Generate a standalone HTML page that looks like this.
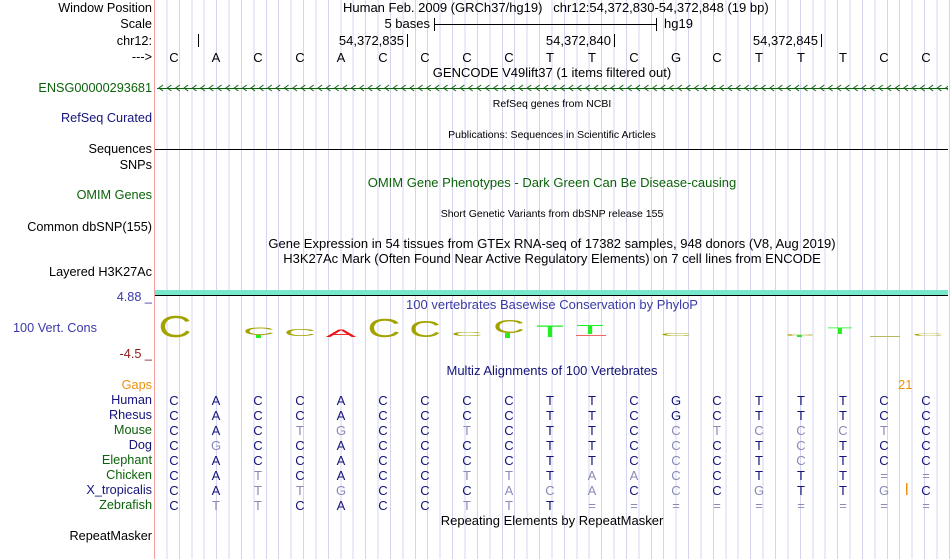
<!DOCTYPE html>
<html><head><meta charset="utf-8"><style>
body{margin:0;width:950px;height:559px;background:#fff;position:relative;overflow:hidden;font-family:"Liberation Sans",Arial,sans-serif;font-size:13px;color:#000}
#grid{position:absolute;left:155px;top:0;width:795px;height:559px;background-image:repeating-linear-gradient(to right,transparent 0 11.42px,#d4d4f0 11.42px 12.42px)}
#pink{position:absolute;left:154px;top:0;width:1px;height:559px;background:#f2a0a0}
.l{position:absolute;right:798px;white-space:nowrap;line-height:14px;font-size:12.7px}
.t{position:absolute;white-space:nowrap;line-height:14px}
.c{position:absolute;white-space:nowrap;line-height:14px;transform:translateX(-50%)}
.s{font-size:10.5px}
.nv{color:#14147a}.gr{color:#0b620b}
svg{position:absolute;left:0;top:0}
.a text{fill:#14147a}
.a text.x{fill:#8a8ab8}
</style></head><body>
<div id="grid"></div><div id="pink"></div>
<div class="l" style="top:1px">Window Position</div>
<div class="l" style="top:17px">Scale</div>
<div class="l" style="top:34px">chr12:</div>
<div class="l" style="top:50px">---&gt;</div>
<div class="l gr" style="top:81px">ENSG00000293681</div>
<div class="l nv" style="top:111px">RefSeq Curated</div>
<div class="l" style="top:142px">Sequences</div>
<div class="l" style="top:158px">SNPs</div>
<div class="l gr" style="top:188px">OMIM Genes</div>
<div class="l" style="top:220px">Common dbSNP(155)</div>
<div class="l" style="top:265px">Layered H3K27Ac</div>
<div class="l" style="top:290px;color:#3a3aa8">4.88 _</div>
<div class="t" style="top:321px;left:13px;color:#3a3aa8;font-size:12.7px">100 Vert. Cons</div>
<div class="l" style="top:347px;color:#8b1a1a">-4.5 _</div>
<div class="l" style="top:378px;color:#f0900a">Gaps</div>
<div class="l nv" style="top:393px">Human</div>
<div class="l nv" style="top:408px">Rhesus</div>
<div class="l gr" style="top:423px">Mouse</div>
<div class="l nv" style="top:438px">Dog</div>
<div class="l gr" style="top:453px">Elephant</div>
<div class="l gr" style="top:468px">Chicken</div>
<div class="l nv" style="top:483px">X_tropicalis</div>
<div class="l gr" style="top:498px">Zebrafish</div>
<div class="l" style="top:529px">RepeatMasker</div>

<div class="t" style="top:1px;left:343px">Human Feb. 2009 (GRCh37/hg19)&nbsp;&nbsp;&nbsp;chr12:54,372,830-54,372,848 (19 bp)</div>
<div class="t" style="top:17px;right:520px">5 bases</div>
<div class="t" style="top:17px;left:664px">hg19</div>
<div class="t" style="top:34px;right:546px">54,372,835</div>
<div class="t" style="top:34px;right:339px">54,372,840</div>
<div class="t" style="top:34px;right:132px">54,372,845</div>
<div class="c" style="top:66px;left:552px">GENCODE V49lift37 (1 items filtered out)</div>
<div class="c s" style="top:97px;left:552px">RefSeq genes from NCBI</div>
<div class="c s" style="top:128px;left:552px">Publications: Sequences in Scientific Articles</div>
<div class="c gr" style="top:176px;left:552px">OMIM Gene Phenotypes - Dark Green Can Be Disease-causing</div>
<div class="c s" style="top:207px;left:552px">Short Genetic Variants from dbSNP release 155</div>
<div class="c" style="top:237px;left:552px">Gene Expression in 54 tissues from GTEx RNA-seq of 17382 samples, 948 donors (V8, Aug 2019)</div>
<div class="c" style="top:252px;left:552px">H3K27Ac Mark (Often Found Near Active Regulatory Elements) on 7 cell lines from ENCODE</div>
<div class="c" style="top:298px;left:552px;color:#3a3aa8">100 vertebrates Basewise Conservation by PhyloP</div>
<div class="c nv" style="top:364px;left:552px">Multiz Alignments of 100 Vertebrates</div>
<div class="t" style="top:378px;left:898px;color:#f0900a">21</div>
<div class="c" style="top:514px;left:552px">Repeating Elements by RepeatMasker</div>

<svg width="950" height="559" xmlns="http://www.w3.org/2000/svg" font-family="Liberation Sans, Arial, sans-serif">
<defs><pattern id="chev" x="157" y="82" width="8.37" height="12" patternUnits="userSpaceOnUse"><path d="M6,3 L2,6 L6,9" fill="none" stroke="#0b620b" stroke-width="1"/></pattern></defs>
<g stroke="#000" stroke-width="1">
<line x1="198.5" y1="34" x2="198.5" y2="47"/><line x1="407.5" y1="34" x2="407.5" y2="47"/><line x1="614.5" y1="34" x2="614.5" y2="47"/><line x1="821.5" y1="34" x2="821.5" y2="47"/>
<line x1="434" y1="24.5" x2="656" y2="24.5"/><line x1="434.5" y1="18" x2="434.5" y2="31"/><line x1="656.5" y1="18" x2="656.5" y2="31"/>
<line x1="155" y1="149.5" x2="948" y2="149.5"/>
<line x1="155" y1="295.5" x2="948" y2="295.5"/>
</g>
<line x1="157" y1="88.5" x2="948" y2="88.5" stroke="#0b620b"/>
<rect x="157" y="82" width="791" height="12" fill="url(#chev)"/>
<rect x="155" y="290" width="793" height="5" fill="#78e8cc"/>
<g font-size="13" text-anchor="middle">
<text y="62" x="174">C</text><text y="62" x="216">A</text><text y="62" x="258">C</text><text y="62" x="300">C</text><text y="62" x="341">A</text><text y="62" x="383">C</text><text y="62" x="425">C</text><text y="62" x="467">C</text><text y="62" x="509">C</text><text y="62" x="550">T</text><text y="62" x="592">T</text><text y="62" x="634">C</text><text y="62" x="676">G</text><text y="62" x="717">C</text><text y="62" x="759">T</text><text y="62" x="801">T</text><text y="62" x="843">T</text><text y="62" x="884">C</text><text y="62" x="926">C</text>
</g>
<g font-size="20" text-anchor="middle">
<text transform="translate(175,337) scale(2.3,1.55)" fill="#a3a300">C</text>
<text transform="translate(259,335) scale(2.2,0.55)" fill="#a3a300">C</text>
<rect x="256" y="335" width="5" height="3" fill="#22ee22"/>
<text transform="translate(300,336) scale(2.2,0.5)" fill="#a3a300">C</text>
<text transform="translate(341,337) scale(2.3,0.55)" fill="#ee1111">A</text>
<text transform="translate(384,337) scale(2.3,1.3)" fill="#a3a300">C</text>
<text transform="translate(425,337) scale(2.2,1.15)" fill="#a3a300">C</text>
<text transform="translate(467,336) scale(2.2,0.28)" fill="#a3a300">C</text>
<text transform="translate(509,333) scale(2.2,0.9)" fill="#a3a300">C</text>
<rect x="505" y="333" width="5" height="5" fill="#22ee22"/>
<text transform="translate(550,337) scale(2.3,0.85)" fill="#22ee22">T</text>
<text transform="translate(590,334) scale(2.3,0.65)" fill="#22ee22">T</text>
<rect x="576" y="335" width="30" height="1" fill="#ee6666"/>
<text transform="translate(676,336) scale(2.2,0.22)" fill="#a3a300">C</text>
<text transform="translate(800,336) scale(2.1,0.15)" fill="#a3a300">C</text>
<rect x="797" y="335" width="5" height="2" fill="#22ee22"/>
<text transform="translate(840,334) scale(2.1,0.45)" fill="#22ee22">T</text>
<rect x="870" y="336" width="30" height="1" fill="#b8b860"/>
<text transform="translate(928,336) scale(2.2,0.2)" fill="#a3a300">C</text>
</g>
<rect x="906" y="483" width="1.5" height="12" fill="#f0900a"/>
<g class="a" font-size="13" text-anchor="middle">
<g transform="translate(0,405)"><text x="174">C</text><text x="216">A</text><text x="258">C</text><text x="300">C</text><text x="341">A</text><text x="383">C</text><text x="425">C</text><text x="467">C</text><text x="509">C</text><text x="550">T</text><text x="592">T</text><text x="634">C</text><text x="676">G</text><text x="717">C</text><text x="759">T</text><text x="801">T</text><text x="843">T</text><text x="884">C</text><text x="926">C</text></g>
<g transform="translate(0,420)"><text x="174">C</text><text x="216">A</text><text x="258">C</text><text x="300">C</text><text x="341">A</text><text x="383">C</text><text x="425">C</text><text x="467">C</text><text x="509">C</text><text x="550">T</text><text x="592">T</text><text x="634">C</text><text x="676">G</text><text x="717">C</text><text x="759">T</text><text x="801">T</text><text x="843">T</text><text x="884">C</text><text x="926">C</text></g>
<g transform="translate(0,435)"><text x="174">C</text><text x="216">A</text><text x="258">C</text><text class="x" x="300">T</text><text class="x" x="341">G</text><text x="383">C</text><text x="425">C</text><text class="x" x="467">T</text><text x="509">C</text><text x="550">T</text><text x="592">T</text><text x="634">C</text><text class="x" x="676">C</text><text class="x" x="717">T</text><text class="x" x="759">C</text><text class="x" x="801">C</text><text class="x" x="843">C</text><text class="x" x="884">T</text><text x="926">C</text></g>
<g transform="translate(0,450)"><text x="174">C</text><text class="x" x="216">G</text><text x="258">C</text><text x="300">C</text><text x="341">A</text><text x="383">C</text><text x="425">C</text><text x="467">C</text><text x="509">C</text><text x="550">T</text><text x="592">T</text><text x="634">C</text><text class="x" x="676">C</text><text x="717">C</text><text x="759">T</text><text class="x" x="801">C</text><text x="843">T</text><text x="884">C</text><text x="926">C</text></g>
<g transform="translate(0,465)"><text x="174">C</text><text x="216">A</text><text x="258">C</text><text x="300">C</text><text x="341">A</text><text x="383">C</text><text x="425">C</text><text x="467">C</text><text x="509">C</text><text x="550">T</text><text x="592">T</text><text x="634">C</text><text class="x" x="676">C</text><text x="717">C</text><text x="759">T</text><text class="x" x="801">C</text><text x="843">T</text><text x="884">C</text><text x="926">C</text></g>
<g transform="translate(0,480)"><text x="174">C</text><text x="216">A</text><text class="x" x="258">T</text><text x="300">C</text><text x="341">A</text><text x="383">C</text><text x="425">C</text><text class="x" x="467">T</text><text class="x" x="509">T</text><text x="550">T</text><text class="x" x="592">A</text><text class="x" x="634">A</text><text class="x" x="676">C</text><text x="717">C</text><text x="759">T</text><text x="801">T</text><text x="843">T</text><text class="x" x="884">=</text><text class="x" x="926">=</text></g>
<g transform="translate(0,495)"><text x="174">C</text><text x="216">A</text><text class="x" x="258">T</text><text class="x" x="300">T</text><text class="x" x="341">G</text><text x="383">C</text><text x="425">C</text><text x="467">C</text><text class="x" x="509">A</text><text class="x" x="550">C</text><text class="x" x="592">A</text><text x="634">C</text><text class="x" x="676">C</text><text x="717">C</text><text class="x" x="759">G</text><text x="801">T</text><text x="843">T</text><text class="x" x="884">G</text><text x="926">C</text></g>
<g transform="translate(0,510)"><text x="174">C</text><text class="x" x="216">T</text><text class="x" x="258">T</text><text x="300">C</text><text x="341">A</text><text x="383">C</text><text x="425">C</text><text class="x" x="467">T</text><text class="x" x="509">T</text><text x="550">T</text><text class="x" x="592">=</text><text class="x" x="634">=</text><text class="x" x="676">=</text><text class="x" x="717">=</text><text class="x" x="759">=</text><text class="x" x="801">=</text><text class="x" x="843">=</text><text class="x" x="884">=</text><text class="x" x="926">=</text></g>
</g>
</svg>
</body></html>
